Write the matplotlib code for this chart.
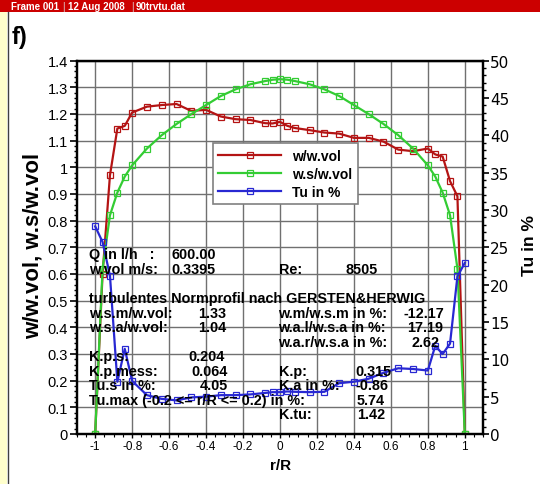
import numpy as np
import matplotlib.pyplot as plt
from matplotlib.patches import Rectangle
from matplotlib.lines import Line2D
from matplotlib.ticker import MultipleLocator, FuncFormatter

plt.rcParams['font.family'] = ['Liberation Sans', 'DejaVu Sans']

# measuring positions r/R
r = [-1.0, -0.96, -0.92, -0.88, -0.84, -0.80, -0.72, -0.64, -0.56, -0.48, -0.40,
     -0.32, -0.24, -0.16, -0.08, -0.04, 0.0, 0.04, 0.08, 0.16, 0.24, 0.32, 0.40,
     0.48, 0.56, 0.64, 0.72, 0.80, 0.84, 0.88, 0.92, 0.96, 1.0]

# measured profile w/w.vol
w_wvol = [0.0, 0.60, 0.97, 1.145, 1.155, 1.205, 1.227, 1.233, 1.237, 1.211, 1.215,
          1.19, 1.18, 1.177, 1.165, 1.164, 1.17, 1.155, 1.147, 1.139, 1.13, 1.126, 1.11,
          1.11, 1.096, 1.066, 1.06, 1.07, 1.048, 1.04, 0.948, 0.891, 0.0]

# turbulent standard profile w.s/w.vol
ws_wvol = [0.0, 0.62, 0.82, 0.905, 0.965, 1.007, 1.07, 1.12, 1.162, 1.199, 1.233,
           1.267, 1.292, 1.311, 1.323, 1.328, 1.33, 1.328, 1.323, 1.311, 1.292, 1.267, 1.233,
           1.199, 1.162, 1.12, 1.07, 1.007, 0.965, 0.905, 0.82, 0.62, 0.0]

# turbulence intensity Tu in %
tu = [27.8, 25.7, 21.2, 7.0, 11.4, 7.1, 5.2, 4.7, 4.5, 4.9, 5.0,
      5.2, 5.2, 5.3, 5.5, 5.6, 5.6, 5.7, 5.65, 5.6, 5.65, 6.8, 7.0,
      7.4, 8.2, 8.8, 8.7, 8.5, 11.8, 10.7, 12.1, 21.1, 22.9]

series_names = ['w/w.vol', 'w.s/w.vol', 'Tu in %']

info_left = [
    ('Q in l/h   :', '600.00'),
    ('w.vol m/s:', '0.3395'),
]
kennwerte = {
    'Re': '8505', 'wsm': '1.33', 'wsa': '1.04', 'wm': '-12.17', 'wal': '17.19',
    'war': '2.62', 'kps': '0.204', 'kpm': '0.064', 'tus': '4.05', 'tumax': '5.74',
    'kp': '0.315', 'ka': '-0.86', 'ktu': '1.42',
}

W, H = 540, 485
fig = plt.figure(figsize=(W / 100, H / 100), dpi=100)
fig.patch.set_facecolor('white')

# window frame: red title bar and yellow strip
fig.patches.append(Rectangle((0, 1 - 13 / H), 1, 13 / H, transform=fig.transFigure,
                             facecolor='#CC0000', edgecolor='none'))
fig.patches.append(Rectangle((0, 0), 7 / W, 1 - 13 / H, transform=fig.transFigure,
                             facecolor='#FFFFCC', edgecolor='none'))
fig.lines.append(Line2D([7.5 / W, 7.5 / W], [0, 1 - 13 / H], transform=fig.transFigure,
                        color='#404040', lw=1))
fig.text(11 / W, 1 - 6.5 / H, 'Frame 001', color='white', fontsize=7, fontweight='bold', va='center')
fig.text(62 / W, 1 - 6.5 / H, '|', color='#DDDDDD', fontsize=7, va='center')
fig.text(68 / W, 1 - 6.5 / H, '12 Aug 2008', color='white', fontsize=7, fontweight='bold', va='center')
fig.text(131 / W, 1 - 6.5 / H, '|', color='#DDDDDD', fontsize=7, va='center')
fig.text(136 / W, 1 - 6.5 / H, '90trvtu.dat', color='white', fontsize=7, fontweight='bold', va='center')

fig.text(12 / W, 1 - 38 / H, 'f)', fontsize=17, fontweight='bold', va='center')

ax = fig.add_axes([76.7 / W, 1 - 435 / H, (483.3 - 76.7) / W, (435 - 61.5) / H])
ax2 = ax.twinx()

red, green, blue = '#B41414', '#33CC33', '#2828D2'
l1, = ax.plot(r, w_wvol, '-s', color=red, lw=1.6, ms=4, mfc='none', mew=0.9, zorder=3)
l2, = ax.plot(r, ws_wvol, '-s', color=green, lw=1.6, ms=4, mfc='none', mew=0.9, zorder=4)
l3, = ax2.plot(r, tu, '-s', color=blue, lw=1.6, ms=4, mfc='none', mew=0.9, zorder=5)

fmt = FuncFormatter(lambda v, p: f'{round(v, 2) + 0.0:g}')
ax.set_xlim(-1.1, 1.1)
ax.set_ylim(0, 1.4)
ax.xaxis.set_major_locator(MultipleLocator(0.2))
ax.xaxis.set_minor_locator(MultipleLocator(0.05))
ax.yaxis.set_major_locator(MultipleLocator(0.1))
ax.yaxis.set_minor_locator(MultipleLocator(0.02))
ax.xaxis.set_major_formatter(fmt)
ax.yaxis.set_major_formatter(fmt)
ax.grid(True, which='major', color='#707070', lw=1.0)
ax.set_axisbelow(True)

ax2.set_ylim(0, 50)
ax2.yaxis.set_major_locator(MultipleLocator(5))
ax2.yaxis.set_minor_locator(MultipleLocator(1))

for a in (ax, ax2):
    for s in a.spines.values():
        s.set_linewidth(1.6)
        s.set_color('black')
ax.tick_params(axis='y', which='major', direction='out', length=5, width=1.2, labelsize=10.5, pad=1.5)
ax.tick_params(axis='y', which='minor', direction='out', length=2.5, width=1)
ax.tick_params(axis='x', which='major', direction='out', length=3, width=1, labelsize=8.5, pad=1.5)
ax.tick_params(axis='x', which='minor', direction='out', length=2, width=0.8)
ax2.tick_params(axis='y', which='major', direction='out', length=4, width=1.2, pad=1)
ax2.tick_params(axis='y', which='minor', direction='out', length=2.5, width=1)
for t in ax2.get_yticklabels():
    t.set_fontfamily('DejaVu Sans')
    t.set_fontsize(11)

fig.text(33 / W, 1 - 246 / H, 'w/w.vol, w.s/w.vol', rotation=90, fontsize=16,
         fontweight='bold', ha='center', va='center')
fig.text(530 / W, 1 - 245 / H, 'Tu in %', rotation=90, fontsize=12.5,
         fontweight='bold', ha='center', va='center')
fig.text(281 / W, 1 - 466 / H, 'r/R', fontsize=11, fontweight='bold', ha='center', va='center')

leg = ax2.legend([l1, l2, l3], series_names, loc='upper left',
                 bbox_to_anchor=(0.335, 0.779), numpoints=1, handlelength=4.5,
                 handletextpad=0.8, labelspacing=0.3, borderpad=0.4, borderaxespad=0,
                 fancybox=False, framealpha=1, edgecolor='#808080',
                 prop={'size': 10, 'weight': 'bold'})
leg.get_frame().set_linewidth(1.2)
leg.set_zorder(10)

# parameter block in pixel positions of the plot area
def px(x, y):
    return (x - 76.7) / 406.6, (435 - y) / 373.5

def put(x, y, s):
    ax2.text(*px(x, y), s, transform=ax2.transAxes, fontsize=10.4, fontweight='bold',
             va='center', ha='left', zorder=11)

put(89, 255, info_left[0][0]); put(171.5, 255, info_left[0][1])
put(89, 270, info_left[1][0]); put(171.5, 270, info_left[1][1])
put(278.5, 270, 'Re:'); put(345, 270, kennwerte['Re'])
put(89, 299, 'turbulentes Normprofil nach GERSTEN&HERWIG')
put(89, 313.5, 'w.s.m/w.vol:'); put(198.5, 313.5, kennwerte['wsm'])
put(89, 328.5, 'w.s.a/w.vol:'); put(198.5, 328.5, kennwerte['wsa'])
put(278.5, 313.5, 'w.m/w.s.m in %:'); put(403.3, 313.5, kennwerte['wm'])
put(278.5, 328.5, 'w.a.l/w.s.a in %:'); put(406.7, 328.5, kennwerte['wal'])
put(278.5, 343, 'w.a.r/w.s.a in %:'); put(411.7, 343, kennwerte['war'])
put(89, 357, 'K.p.s:'); put(188.3, 357, kennwerte['kps'])
put(89, 372, 'K.p.mess:'); put(191, 372, kennwerte['kpm'])
put(89, 386.5, 'Tu.s in %:'); put(200, 386.5, kennwerte['tus'])
put(89, 401, 'Tu.max (-0.2 <= r/R <= 0.2) in %:'); put(357, 401, kennwerte['tumax'])
put(278.5, 372, 'K.p:'); put(355, 372, kennwerte['kp'])
put(278.5, 386.5, 'K.a in %:'); put(355, 386.5, kennwerte['ka'])
put(278.5, 415, 'K.tu:'); put(357, 415, kennwerte['ktu'])

fig.savefig('out.png', dpi=100)
